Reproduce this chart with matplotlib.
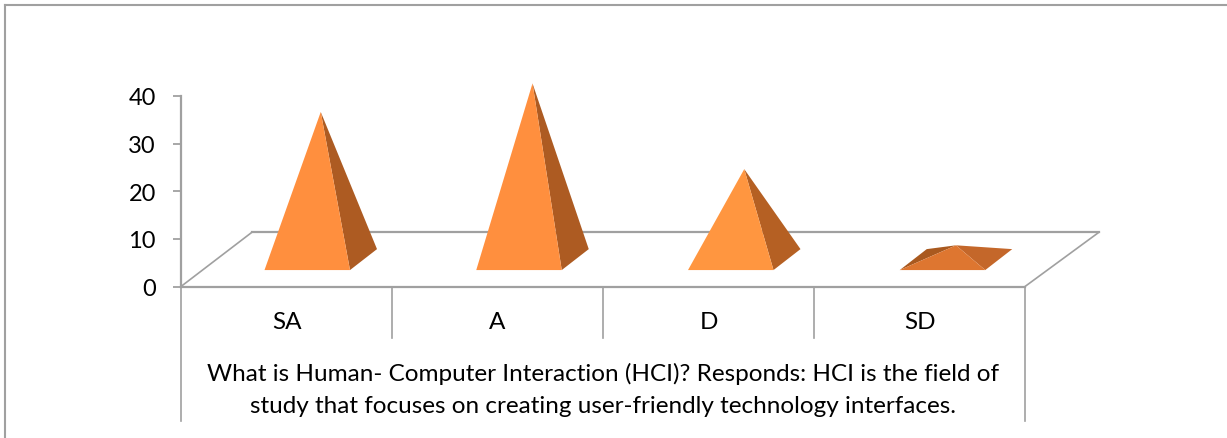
#!/usr/bin/env python3
"""Recreate the 3D-style pyramid chart of HCI survey responses."""

import matplotlib
matplotlib.use("Agg")
import matplotlib.pyplot as plt
from matplotlib.patches import Polygon

categories = ["SA", "A", "D", "SD"]
values = [31, 37, 19, 3]
y_ticks = [0, 10, 20, 30, 40]
title_lines = [
    "What is Human- Computer Interaction (HCI)? Responds: HCI is the field of",
    "study that focuses on creating user-friendly technology interfaces.",
]

W, H = 1227, 439
GRAY = "#a0a0a0"
FONT = "Lato"
AX_BOTTOM = 287.5
AX_HEIGHT = 190.5

# floor depth, in data units (1 category wide, y in value units)
DEPTH_X = 71 / 211
DEPTH_Y = 11.4
BACK_STRETCH = 847 / 844  # floor's back edge and the pyramids run a bit wider
# pyramid base, relative to the category cell
BASE_LEFT = 83.5 / 211
BASE_W = 85.5 / 211
BASE_FRONT_Y = 3.45
BASE_DX = 27 / 211
BASE_DY = 4.4

# front, right, back-left face colours; flat pyramids catch less light
TALL = ("#ff8f3e", "#ad5b22", None)
MID = ("#ff9640", "#b56023", None)
FLAT = ("#de7630", "#c4672a", "#a9591f")
face_colors = [TALL, TALL, MID, FLAT]

plt.rcParams["font.family"] = [FONT, "DejaVu Sans"]

fig = plt.figure(figsize=(W / 100, H / 100), dpi=100)
ax = fig.add_axes([181 / W, 1 - AX_BOTTOM / H, 844 / W, AX_HEIGHT / H])
ax.set_xlim(0, len(categories))
ax.set_ylim(0, 40)
ax.patch.set_visible(False)

# picture frame: only top and left edges are visible
fig.add_artist(plt.Line2D([4.5 / W, 1], [1 - 6 / H] * 2, color=GRAY, lw=1.5))
fig.add_artist(plt.Line2D([4.5 / W] * 2, [1 - 6 / H, 0], color=GRAY, lw=1.5))

for s in ("top", "right"):
    ax.spines[s].set_visible(False)
for s in ("left", "bottom"):
    ax.spines[s].set_color(GRAY)
    ax.spines[s].set_linewidth(1.6)

ax.set_yticks(y_ticks)
ax.tick_params(axis="y", length=6, width=1.3, color=GRAY, labelsize=17, pad=12)

n = len(categories)
ax.set_xticks([i + 0.5 for i in range(n)])
ax.set_xticklabels(categories)
ax.tick_params(axis="x", length=0, labelsize=17.5, pad=18)

# floor outline
ax.plot([0, DEPTH_X], [0, DEPTH_Y], color=GRAY, lw=1.2, clip_on=False, zorder=1)
ax.plot([DEPTH_X, n * BACK_STRETCH + DEPTH_X], [DEPTH_Y, DEPTH_Y],
        color=GRAY, lw=1.6, clip_on=False, zorder=1)
ax.plot([n * BACK_STRETCH + DEPTH_X, n], [DEPTH_Y, 0],
        color=GRAY, lw=1.2, clip_on=False, zorder=1)

# category dividers and the long outer drops
for i in range(1, n):
    ax.plot([i, i], [0, -10.9], color=GRAY, lw=1.2, clip_on=False)
for i in (0, n):
    ax.plot([i, i], [0, -28.2], color=GRAY, lw=1.2, clip_on=False)

for i, (val, cols) in enumerate(zip(values, face_colors)):
    x0 = i * BACK_STRETCH + BASE_LEFT
    x1 = x0 + BASE_W
    y0 = BASE_FRONT_Y
    apex = ((x0 + x1 + BASE_DX) / 2, y0 + BASE_DY / 2 + val)
    front_l, front_r = (x0, y0), (x1, y0)
    back_r = (x1 + BASE_DX, y0 + BASE_DY)
    back_l = (x0 + BASE_DX, y0 + BASE_DY)
    if cols[2]:
        ax.add_patch(Polygon([front_l, back_l, apex], fc=cols[2], ec="none",
                             clip_on=False, zorder=2))
    ax.add_patch(Polygon([front_r, back_r, apex], fc=cols[1], ec="none",
                         clip_on=False, zorder=2))
    ax.add_patch(Polygon([front_l, front_r, apex], fc=cols[0], ec="none",
                         clip_on=False, zorder=3))

for line, y_px in zip(title_lines, (374, 407)):
    ax.text(0.5, (AX_BOTTOM - y_px) / AX_HEIGHT, line, transform=ax.transAxes,
            ha="center", va="center", fontsize=17.5, color="black")

fig.savefig("out.png", dpi=100)
